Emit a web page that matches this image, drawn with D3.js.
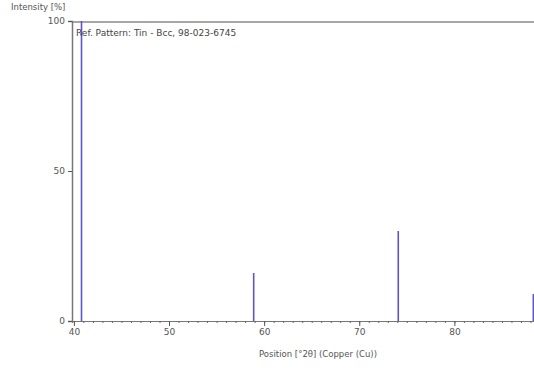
<!DOCTYPE html>
<html>
<head>
<meta charset="utf-8">
<script src="https://cdn.jsdelivr.net/npm/d3@7"></script>
<style>
  body { margin: 0; background: #fff; }
  text { font-family: "DejaVu Sans", sans-serif; fill: #555; }
</style>
</head>
<body>
<svg id="chart" width="534" height="373"></svg>
<script>
const positions = [40.8, 58.9, 74.1, 88.3];
const intensities = [100, 16, 30, 9];
const xTicks = [40, 50, 60, 70, 80];
const yTicks = [0, 50, 100];

const svg = d3.select('#chart');
const margin = { left: 72, top: 21, right: 0, bottom: 52 };
const width = 534, height = 373;

const x = d3.scaleLinear().domain([39.8, 88.37]).range([margin.left, width - margin.right]);
const y = d3.scaleLinear().domain([0, 100]).range([height - margin.bottom, margin.top]);

// top frame line
svg.append('line')
    .attr('x1', margin.left).attr('x2', width).attr('y1', y(100) + 1).attr('y2', y(100) + 1)
    .attr('stroke', '#888').attr('stroke-width', 1.5);

// minor ticks on x
const xMinor = d3.axisBottom(x).tickValues(d3.range(40, 89, 1)).tickSize(2).tickFormat('');
svg.append('g').attr('transform', `translate(0,${y(0)})`).call(xMinor)
    .call(g => g.selectAll('line').attr('stroke', '#666'))
    .call(g => g.select('.domain').attr('stroke', '#777'));

const xAxis = d3.axisBottom(x).tickValues(xTicks).tickSize(5).tickPadding(3);
svg.append('g').attr('transform', `translate(0,${y(0)})`).call(xAxis)
    .call(g => g.select('.domain').remove())
    .call(g => g.selectAll('line').attr('stroke', '#555'))
    .call(g => g.selectAll('text').attr('fill', '#555').style('font-size', '9px')
        .style('font-family', '"DejaVu Sans", sans-serif'));

const yAxis = d3.axisLeft(y).tickValues(yTicks).tickSize(4).tickPadding(3);
svg.append('g').attr('transform', `translate(${margin.left},0)`).call(yAxis)
    .call(g => g.select('.domain').attr('stroke', '#777').attr('stroke-width', 1.5))
    .call(g => g.selectAll('line').attr('stroke', '#555'))
    .call(g => g.selectAll('text').attr('fill', '#555').style('font-size', '9px')
        .style('font-family', '"DejaVu Sans", sans-serif'));

// peaks
svg.append('g').selectAll('line')
    .data(positions)
    .join('line')
    .attr('x1', d => x(d)).attr('x2', d => x(d))
    .attr('y1', y(0))
    .attr('y2', (d, i) => y(intensities[i]))
    .attr('stroke', '#5a55c8')
    .attr('stroke-width', 1.6);

svg.append('text').attr('x', 76).attr('y', 36)
    .style('font-size', '9px').style('fill', '#444')
    .text('Ref. Pattern: Tin - Bcc, 98-023-6745');

svg.append('text').attr('x', 11).attr('y', 10)
    .style('font-size', '8.5px').style('fill', '#555')
    .text('Intensity [%]');

svg.append('text').attr('x', 318).attr('y', 357).attr('text-anchor', 'middle')
    .style('font-size', '8.5px').style('fill', '#555')
    .text('Position [°2θ] (Copper (Cu))');
</script>
</body>
</html>
